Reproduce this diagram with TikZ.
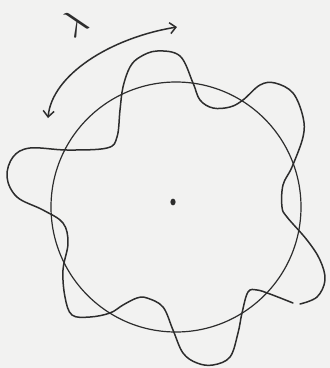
\documentclass[tikz,border=0pt]{standalone}
\usepackage{amsmath}
\usetikzlibrary{arrows.meta}
\definecolor{paper}{RGB}{242,242,241}
\definecolor{pencil}{RGB}{45,45,45}

\begin{document}
\begin{tikzpicture}[x=1pt,y=-1pt,
  stroke/.style={draw=pencil, line width=1.5pt, line cap=round, line join=round},
  ring/.style={draw=pencil, line width=1.2pt},
  span/.style={stroke, {Straight Barb[length=6pt,width=11pt]}-{Straight Barb[length=6pt,width=11pt]}}]
\path[use as bounding box, fill=paper] (0,0) rectangle (330,368);
\coordinate (c) at (176,207);
\draw[ring] (c) circle[radius=125];
\fill[pencil] (173,202) ellipse[x radius=2.6, y radius=3.4];
\draw[stroke] plot[smooth, tension=0.6] coordinates {
  (293,303) (270,294) (257,290) (248,292) (242,313) (238,333) (230,357)
  (213,365) (197,363) (183,353) (173,330) (163,307) (147,298) (137,298)
  (123,305) (110,313) (90,317) (72,315) (65,297) (63,270) (68,243)
  (63,223) (43,210) (17,197) (7,177) (13,157) (30,148) (67,150)
  (107,148) (117,137) (120,110) (123,87) (130,67) (140,57) (157,51)
  (180,56) (193,83) (200,100) (213,108) (230,107) (243,100) (260,85)
  (275,83) (293,93) (303,117) (303,137) (292,167) (283,185) (282,207)
  (287,217) (307,240) (320,260) (325,280) (317,297) (300,304)};
\coordinate (arcL) at (48,118);
\coordinate (arcR) at (177,27);
\draw[span] (arcL) .. controls (52,75) and (110,38) .. (arcR);
\node[text=pencil, rotate=36, inner sep=0pt] (lam) at (75,23) {\scalebox{3.7}{$\lambda$}};
\end{tikzpicture}
\end{document}
